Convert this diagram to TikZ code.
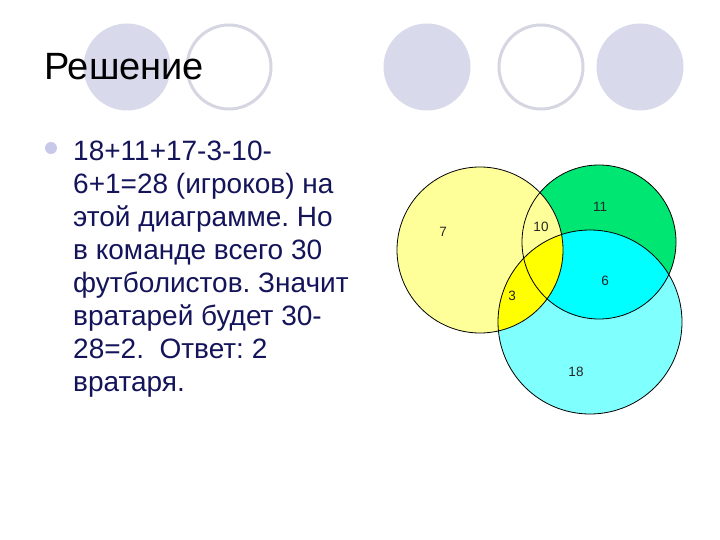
\documentclass[tikz,border=0pt]{standalone}
\usepackage{fontspec}
\setmainfont{Liberation Sans}
\usepackage{xcolor}
\usepackage{tikz}
\frenchspacing

\definecolor{lavender}{RGB}{217,217,236}
\definecolor{bulletblue}{RGB}{200,200,234}
\definecolor{ringgray}{RGB}{214,214,226}
\definecolor{navytext}{RGB}{20,20,90}
\definecolor{paleyellow}{RGB}{255,255,153}
\definecolor{fullyellow}{RGB}{255,255,0}
\definecolor{springgreen}{RGB}{0,230,115}
\definecolor{palecyan}{RGB}{128,255,255}
\definecolor{fullcyan}{RGB}{0,255,255}

\begin{document}
\begin{tikzpicture}[x=1pt,y=-1pt,
                    deco disc/.style={fill=lavender},
                    deco ring/.style={draw=ringgray,line width=3pt},
                    venn line/.style={draw=black,line width=0.8pt},
                    count/.style={font=\fontsize{13.5}{15}\selectfont,text=black!85,inner sep=0pt}]

  \useasboundingbox[fill=white] (0,0) rectangle (720,540);

  % decoration circles on top
  \fill[deco disc] (127,67) circle[radius=43.5pt];
  \draw[deco ring] (229,67) circle[radius=42pt];
  \fill[deco disc] (427,67) circle[radius=43.5pt];
  \draw[deco ring] (541,67) circle[radius=42pt];
  \fill[deco disc] (640,67) circle[radius=43.5pt];

  \node[anchor=base west,inner sep=0pt,font=\fontsize{38}{42}\selectfont] (title) at (44,80) {Решение};

  % bullet and answer text
  \fill[fill=bulletblue] (51,148) circle[radius=6pt];
  \node[anchor=base west,inner sep=0pt,align=left,text=navytext,
        font=\fontsize{28}{33}\selectfont] (answer) at (73,391)
    {18+11+17-3-10-\\
     6+1=28 (игроков) на\\
     этой диаграмме. Но\\
     в команде всего 30\\
     футболистов. Значит\\
     вратарей будет 30-\\
     28=2.\ \ Ответ: 2\\
     вратаря.};

  % venn diagram
  \coordinate (yel) at (480,250);
  \coordinate (grn) at (599,242);
  \coordinate (cyn) at (590,322);

  \fill[palecyan] (cyn) circle[radius=92pt];
  \fill[springgreen] (grn) circle[radius=77pt];
  \begin{scope}
    \clip (cyn) circle[radius=92pt];
    \fill[fullcyan] (grn) circle[radius=77pt];
  \end{scope}
  \fill[paleyellow] (yel) circle[radius=83pt];
  \begin{scope}
    \clip (cyn) circle[radius=92pt];
    \fill[fullyellow] (yel) circle[radius=83pt];
  \end{scope}

  \draw[venn line] (yel) circle[radius=83pt];
  \draw[venn line] (grn) circle[radius=77pt];
  \draw[venn line] (cyn) circle[radius=92pt];

  \node[count] (n7)  at (443,232) {7};
  \node[count] (n10) at (541,227) {10};
  \node[count] (n11) at (600,207) {11};
  \node[count] (n6)  at (605,281) {6};
  \node[count] (n3)  at (512,296) {3};
  \node[count] (n18) at (576,372) {18};
\end{tikzpicture}
\end{document}
